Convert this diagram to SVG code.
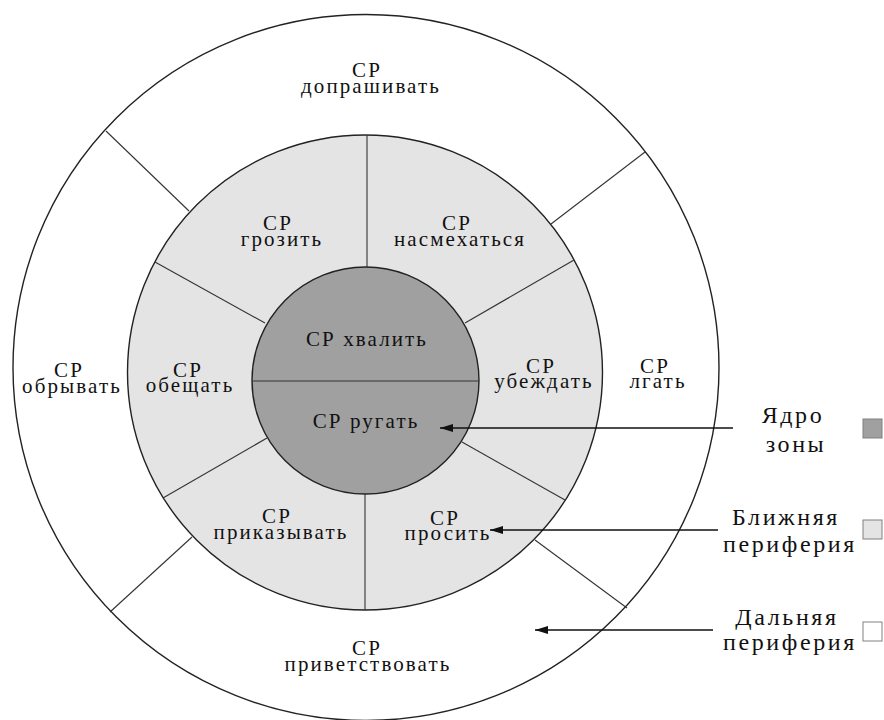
<svg xmlns="http://www.w3.org/2000/svg" width="884" height="720" viewBox="0 0 884 720">
  <defs>
    <style>
      .zone { stroke: #222; stroke-width: 1.4; }
      .far { fill: #ffffff; }
      .near { fill: #e4e4e4; }
      .core { fill: #a0a0a0; }
      .div { stroke: #333; stroke-width: 1.1; fill: none; }
      .lbl { font-size: 21px; letter-spacing: 2.1px; fill: #111; text-anchor: middle; }
      .leg { font-size: 24px; letter-spacing: 2.6px; fill: #111; text-anchor: middle; }
      .arrow { stroke: #111; stroke-width: 1.4; fill: none; marker-end: url(#head); }
      .swatch { stroke: #808080; stroke-width: 1; }
    </style>
    <marker id="head" markerUnits="userSpaceOnUse" markerWidth="14" markerHeight="10" refX="13" refY="5" orient="auto">
      <path d="M0,1 L13,5 L0,9 Z" fill="#111"/>
    </marker>
  </defs>

  <rect width="884" height="720" fill="#ffffff"/>

  <!-- concentric zones -->
  <g id="zones">
    <circle id="far-periphery" class="zone far" cx="366" cy="367.5" r="353"/>
    <circle id="near-periphery" class="zone near" cx="365" cy="372.5" r="237.5"/>
    <circle id="core" class="zone core" cx="365.5" cy="380.5" r="113.5"/>
  </g>

  <!-- sector dividers -->
  <g id="dividers" class="div">
    <line x1="252" y1="381" x2="479" y2="381"/>
    <line x1="367" y1="135" x2="367" y2="267"/>
    <line x1="365" y1="494" x2="365" y2="610"/>
    <line x1="155" y1="262" x2="265" y2="323"/>
    <line x1="574" y1="260" x2="465" y2="323"/>
    <line x1="267" y1="438" x2="163" y2="498"/>
    <line x1="462" y1="442" x2="565" y2="500"/>
    <line x1="106" y1="131" x2="189" y2="211"/>
    <line x1="645" y1="152" x2="551" y2="224"/>
    <line x1="192" y1="537" x2="110" y2="612"/>
    <line x1="535" y1="540" x2="627" y2="608"/>
  </g>

  <g font-family="'Liberation Serif', 'DejaVu Serif', serif">
    <!-- core sectors -->
    <g id="node-hvalit"><text class="lbl" x="367" y="346">СР хвалить</text></g>
    <g id="node-rugat"><text class="lbl" x="366" y="428">СР ругать</text></g>

    <!-- near periphery sectors -->
    <g id="node-grozit"><text class="lbl" x="278" y="230">СР</text><text class="lbl" x="282" y="246">грозить</text></g>
    <g id="node-nasmehatsya"><text class="lbl" x="457" y="230">СР</text><text class="lbl" x="460" y="246">насмехаться</text></g>
    <g id="node-obeschat"><text class="lbl" x="188" y="377">СР</text><text class="lbl" x="190" y="392">обещать</text></g>
    <g id="node-ubezhdat"><text class="lbl" x="541" y="373">СР</text><text class="lbl" x="544" y="388">убеждать</text></g>
    <g id="node-prikazyvat"><text class="lbl" x="277" y="523">СР</text><text class="lbl" x="281" y="539">приказывать</text></g>
    <g id="node-prosit"><text class="lbl" x="445" y="525">СР</text><text class="lbl" x="448" y="540">просить</text></g>

    <!-- far periphery sectors -->
    <g id="node-doprashivat"><text class="lbl" x="367" y="77">СР</text><text class="lbl" x="371" y="93">допрашивать</text></g>
    <g id="node-obryvat"><text class="lbl" x="69" y="377">СР</text><text class="lbl" x="72" y="393">обрывать</text></g>
    <g id="node-lgat"><text class="lbl" x="655" y="373">СР</text><text class="lbl" x="658" y="388">лгать</text></g>
    <g id="node-privetstvovat"><text class="lbl" x="367" y="655">СР</text><text class="lbl" x="368" y="671">приветствовать</text></g>

    <!-- legend -->
    <g id="legend-core">
      <text class="leg" x="793" y="423">Ядро</text>
      <text class="leg" x="796" y="452">зоны</text>
      <rect class="swatch" x="863" y="419" width="19" height="19" fill="#a0a0a0"/>
    </g>
    <g id="legend-near">
      <text class="leg" x="786" y="525">Ближняя</text>
      <text class="leg" x="790" y="552">периферия</text>
      <rect class="swatch" x="863" y="520" width="19" height="19" fill="#e4e4e4"/>
    </g>
    <g id="legend-far">
      <text class="leg" x="787" y="625">Дальняя</text>
      <text class="leg" x="790" y="650">периферия</text>
      <rect class="swatch" x="863" y="622" width="19" height="19" fill="#ffffff"/>
    </g>
  </g>

  <!-- legend pointers -->
  <g id="connectors">
    <line class="arrow" x1="733" y1="428" x2="440" y2="428"/>
    <line class="arrow" x1="718" y1="530" x2="490" y2="530"/>
    <line class="arrow" x1="713" y1="630" x2="535" y2="630"/>
  </g>
</svg>
